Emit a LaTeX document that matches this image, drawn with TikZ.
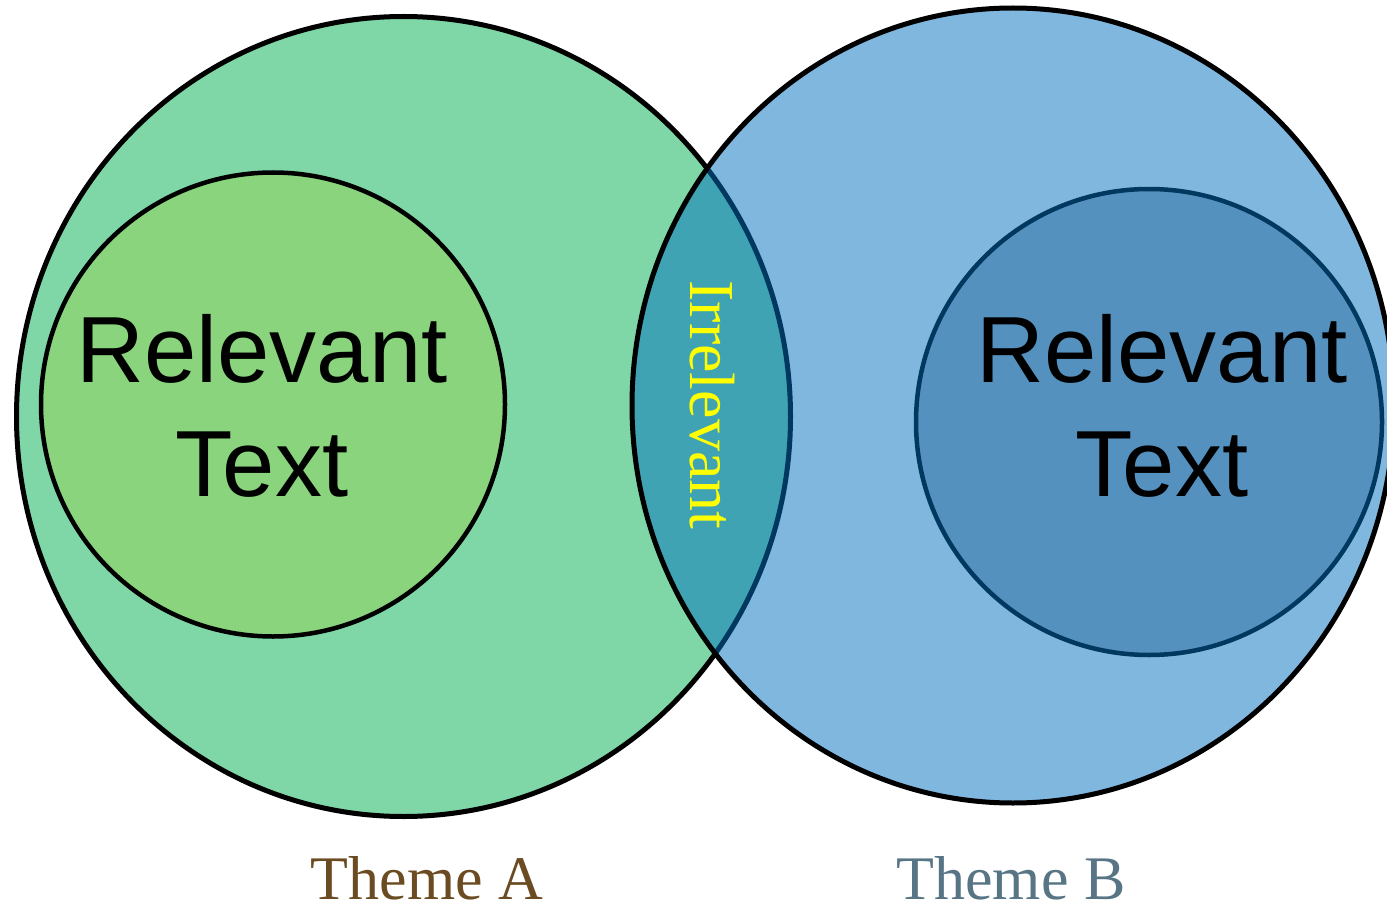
\documentclass[tikz,border=0pt]{standalone}
\usepackage{fontspec}
\setmainfont{Liberation Serif}
\newfontfamily\relfont{Liberation Sans}

\definecolor{themeAfill}{HTML}{7FD7A7}
\definecolor{relAfill}{HTML}{89D47C}
\definecolor{relBfill}{HTML}{A9B4BE}
\definecolor{themeBfill}{HTML}{0070C0}
\definecolor{themeAtext}{HTML}{6B4C22}
\definecolor{themeBtext}{HTML}{587586}
\definecolor{irrtext}{HTML}{FFFF00}

\tikzset{
  ring/.style={draw=black,line width=5pt},
  inner ring/.style={draw=black,line width=4.5pt},
  reltext/.style={font=\relfont\fontsize{94}{114}\selectfont,align=center,inner sep=0pt},
  themelabel/.style={font=\fontsize{62}{70}\selectfont,anchor=base,inner sep=0pt}
}

\begin{document}
\begin{tikzpicture}[x=1pt,y=-1pt]
\useasboundingbox (0,0) rectangle (1387,904);
\clip (0,0) rectangle (1387,904);
% theme A with its relevant part
\draw[ring,fill=themeAfill] (403.5,416.5) ellipse [x radius=387pt,y radius=400pt];
\draw[inner ring,fill=relAfill] (273,404.5) circle [radius=232pt];
% relevant part of theme B sits under the see-through B disc
\draw[inner ring,fill=relBfill] (1149,422) circle [radius=233pt];
\draw[ring,fill=themeBfill,fill opacity=.5] (1013,405.5) ellipse [x radius=381pt,y radius=397.5pt];
%\draw[red] (632,405.5) -- (790,405.5);
\node[reltext] (relA) at (262,405.5) {Relevant\\Text};
\node[reltext] (relB) at (1162,405.5) {Relevant\\Text};
\node[rotate=-90,text=irrtext,inner sep=0pt,font=\fontsize{64}{70}\selectfont] (irr) at (712,405) {Irrelevant};
\node[themelabel,text=themeAtext] (themeA) at (427,899) {Theme A};
\node[themelabel,text=themeBtext] (themeB) at (1011,899) {Theme B};
\end{tikzpicture}
\end{document}
